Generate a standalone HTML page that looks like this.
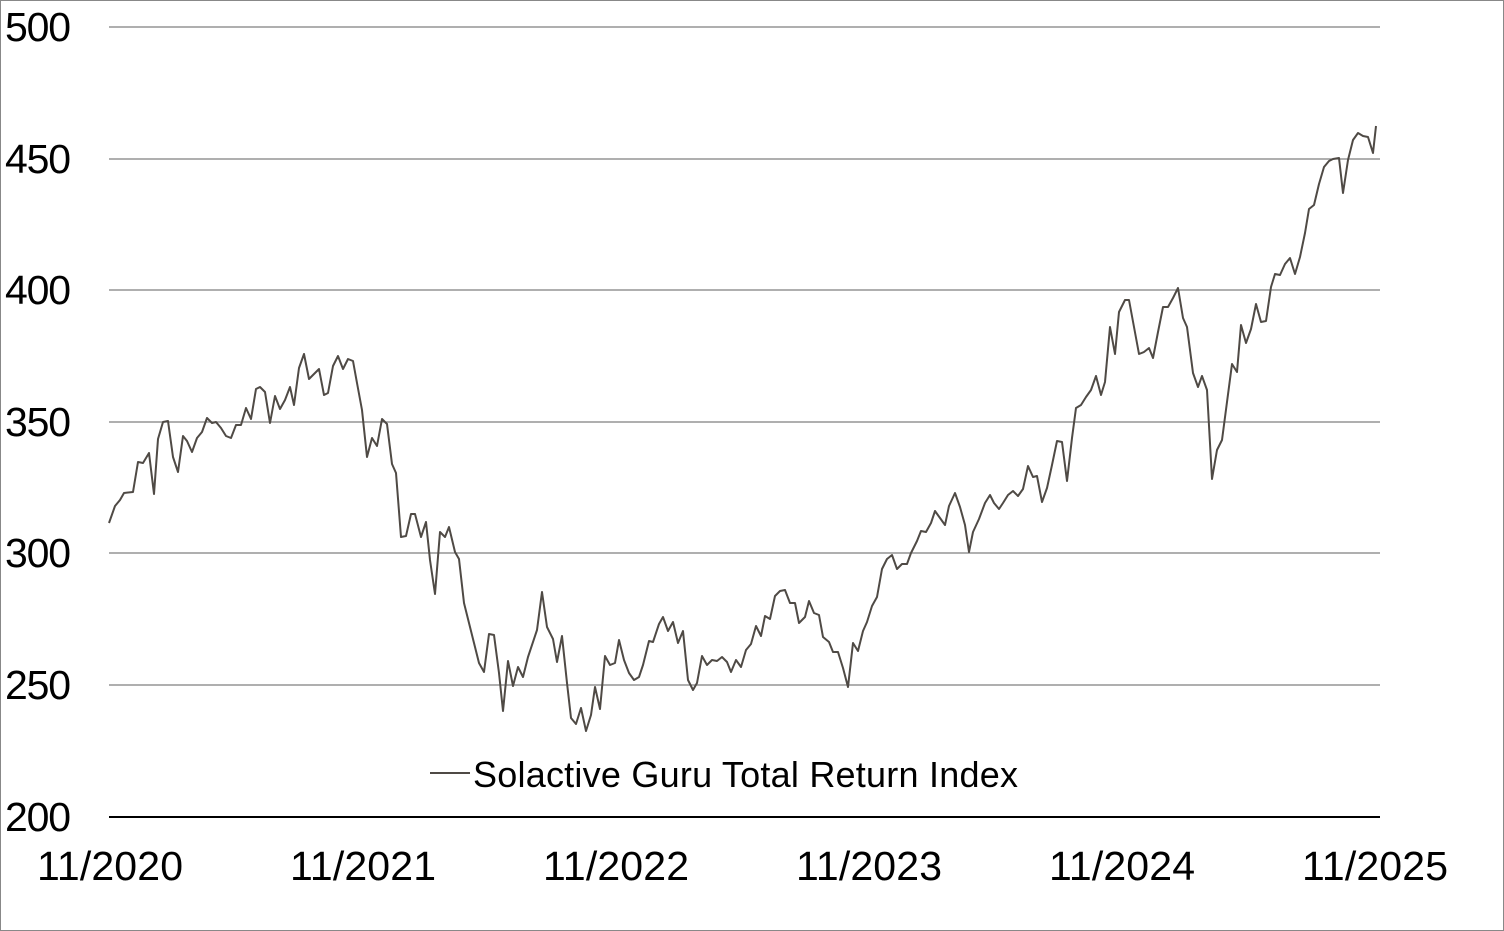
<!DOCTYPE html>
<html><head><meta charset="utf-8"><style>
html,body{margin:0;padding:0;background:#fff;}
svg{display:block;}
</style></head><body>
<svg width="1504" height="931" viewBox="0 0 1504 931" xmlns="http://www.w3.org/2000/svg" font-family="'Liberation Sans', 'DejaVu Sans', sans-serif">
<rect x="0.5" y="0.5" width="1503" height="930" fill="#fff" stroke="#888" stroke-width="1"/>
<g stroke="#7f7f7f" stroke-width="1.3">
<line x1="109" y1="27" x2="1380" y2="27"/>
<line x1="109" y1="159" x2="1380" y2="159"/>
<line x1="109" y1="290" x2="1380" y2="290"/>
<line x1="109" y1="422" x2="1380" y2="422"/>
<line x1="109" y1="553" x2="1380" y2="553"/>
<line x1="109" y1="685" x2="1380" y2="685"/>
</g>
<line x1="109" y1="817" x2="1380" y2="817" stroke="#000" stroke-width="2"/>
<g font-size="41" fill="#000">
<text x="5" y="41" textLength="66">500</text>
<text x="5" y="173" textLength="66">450</text>
<text x="5" y="304" textLength="66">400</text>
<text x="5" y="436" textLength="66">350</text>
<text x="5" y="567" textLength="66">300</text>
<text x="5" y="699" textLength="66">250</text>
<text x="5" y="831" textLength="66">200</text>
</g>
<g font-size="41" fill="#000" text-anchor="middle">
<text x="110" y="880" textLength="146">11/2020</text>
<text x="363" y="880" textLength="146">11/2021</text>
<text x="616" y="880" textLength="146">11/2022</text>
<text x="869" y="880" textLength="146">11/2023</text>
<text x="1122" y="880" textLength="146">11/2024</text>
<text x="1375" y="880" textLength="146">11/2025</text>
</g>
<line x1="430" y1="773" x2="470" y2="773" stroke="#4f4a45" stroke-width="2"/>
<text x="473" y="787" font-size="36" fill="#000" textLength="545">Solactive Guru Total Return Index</text>
<polyline fill="none" stroke="#4f4a45" stroke-width="2" stroke-linejoin="round" points="
109,523 115,506 120,500 124,493 133,492 138,462 143,463 149,453 154,494 158,439 163,422 168,421 173,457 178,472 183,436 187,441 192,452 197,438 202,432 207,418 212,423 216,422 221,428 226,436 231,438 236,425 241,425 246,408 251,419 256,389 260,387 265,392 270,423 275,396 280,409 285,400 290,387 294,405 299,368 304,354 309,379 319,369 324,395 328,393 333,366 338,356 343,369 348,359 353,361 357,383 362,410 367,457 372,438 377,446 382,419 387,424 392,464 396,473 401,537 406,536 411,514 415,514 421,537 426,522 430,560 435,594 440,532 445,537 449,527 455,552 459,559 464,603 469,623 474,643 479,663 484,672 489,634 494,635 499,673 503,711 508,661 513,686 518,667 523,677 528,657 537,630 542,592 547,627 553,639 557,662 562,636 567,683 571,718 576,724 581,708 586,731 591,715 595,687 600,709 605,656 610,665 615,663 619,640 624,660 629,673 634,680 639,677 643,665 649,641 653,642 659,624 663,617 668,631 673,622 678,643 683,631 688,680 693,690 697,683 702,656 707,665 712,660 717,661 722,657 727,662 731,672 736,660 741,667 746,650 751,644 756,626 761,636 765,616 770,619 775,596 780,591 785,590 790,603 795,603 799,623 805,617 809,601 814,613 819,615 823,637 829,642 833,652 838,652 843,668 848,687 853,643 858,651 863,631 867,622 872,606 877,597 882,569 887,559 892,555 897,569 902,564 907,564 911,553 917,541 921,531 926,532 931,523 935,511 945,525 949,506 955,493 960,507 965,525 969,552 973,532 979,519 985,503 990,495 994,503 999,509 1003,503 1008,495 1013,491 1018,496 1023,489 1028,466 1033,477 1037,476 1042,502 1047,488 1052,465 1057,441 1062,442 1067,481 1072,438 1076,408 1081,405 1086,397 1091,390 1096,376 1101,395 1105,382 1110,327 1115,354 1119,312 1125,300 1129,300 1134,327 1139,354 1144,352 1149,348 1153,358 1158,332 1163,307 1168,307 1173,298 1178,288 1183,318 1187,327 1193,373 1198,387 1202,376 1207,390 1212,479 1217,450 1222,440 1227,402 1232,364 1237,372 1241,325 1246,343 1251,329 1256,304 1261,322 1266,321 1271,287 1275,274 1280,275 1285,264 1290,258 1295,274 1300,257 1305,233 1309,209 1314,205 1319,184 1324,167 1329,161 1333,159 1339,158 1343,193 1348,160 1353,140 1358,133 1363,136 1368,137 1373,153 1376,126"/>
</svg>
</body></html>
